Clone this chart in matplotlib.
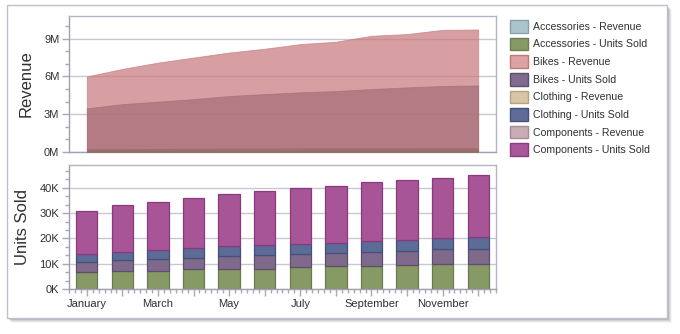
import matplotlib
matplotlib.use("Agg")
import matplotlib.pyplot as plt
from matplotlib.patches import Patch, Rectangle
from matplotlib.ticker import MultipleLocator, FixedLocator, FuncFormatter
import numpy as np

plt.rcParams['font.family'] = ['Liberation Sans', 'DejaVu Sans']

months = ['January', 'February', 'March', 'April', 'May', 'June', 'July',
          'August', 'September', 'October', 'November', 'December']

# Revenue (millions)
acc_rev = [0.26, 0.27, 0.28, 0.29, 0.31, 0.31, 0.32, 0.32, 0.33, 0.33, 0.34, 0.34]
bikes_rev = [6.0, 6.6, 7.1, 7.5, 7.9, 8.2, 8.57, 8.76, 9.23, 9.37, 9.7, 9.73]
cloth_rev = [0.09, 0.09, 0.10, 0.10, 0.11, 0.11, 0.11, 0.12, 0.12, 0.12, 0.13, 0.13]
comp_rev = [3.47, 3.8, 4.0, 4.2, 4.45, 4.6, 4.74, 4.84, 5.0, 5.13, 5.24, 5.29]

# Units sold (thousands)
acc_units = [6.9, 7.3, 7.3, 7.9, 8.1, 8.1, 8.5, 8.9, 8.9, 9.3, 9.9, 9.9]
bikes_units = [3.6, 4.0, 4.6, 4.4, 5.0, 5.5, 5.4, 5.4, 5.8, 5.8, 6.0, 6.0]
cloth_units = [3.2, 3.4, 3.6, 4.0, 4.0, 3.9, 3.8, 3.8, 4.2, 4.2, 4.4, 4.8]
comp_units = [17.0, 18.4, 18.8, 19.6, 20.4, 21.2, 22.2, 22.6, 23.4, 23.9, 23.6, 24.4]

legend_labels = ['Accessories - Revenue', 'Accessories - Units Sold',
                 'Bikes - Revenue', 'Bikes - Units Sold',
                 'Clothing - Revenue', 'Clothing - Units Sold',
                 'Components - Revenue', 'Components - Units Sold']
legend_fill = ['#ABC4CB', '#879A66', '#DBA3A3', '#806A8E',
               '#D8C4A6', '#5E6C98', '#CBABB5', '#A9579A']
legend_edge = ['#8AA0A8', '#6E7E52', '#C07878', '#5E4E6A',
               '#B8A080', '#46507A', '#A88894', '#8A3C7E']

W, H = 680, 334
fig = plt.figure(figsize=(W / 100, H / 100), dpi=100)
fig.patch.set_facecolor('white')

def fx(px):
    return px / W

def fy(py):
    return 1 - py / H

# outer frame with shadow
for i, a in enumerate([0.10, 0.08, 0.06, 0.04, 0.02]):
    d = i + 1
    fig.add_artist(Rectangle((fx(7 + d), fy(318 + d)), fx(660), 313 / H,
                             transform=fig.transFigure, facecolor='#707080',
                             edgecolor='none', alpha=a * 3, zorder=-3))
fig.add_artist(Rectangle((fx(7), fy(318)), fx(660), 313 / H,
                         transform=fig.transFigure, facecolor='white',
                         edgecolor='#C0C0CC', linewidth=1, zorder=-2))

grid_c = '#C8C8D4'
spine_c = '#B4B4C4'
tick_c = '#A8A8B8'
text_c = '#303030'

ax1 = fig.add_axes([fx(69), fy(152), fx(496 - 69), (152 - 16) / H])
ax2 = fig.add_axes([fx(69), fy(289), fx(496 - 69), (289 - 165) / H])

x = np.arange(len(months))

# --- upper: overlapping areas ---
alpha = 0.7
ax1.fill_between(x, 0, bikes_rev, color='#C7777A', alpha=alpha, linewidth=0.6,
                 edgecolor='#C7777A', zorder=2)
ax1.fill_between(x, 0, comp_rev, color='#A56D77', alpha=alpha, linewidth=0.6,
                 edgecolor='#A56D77', zorder=3)
ax1.fill_between(x, 0, acc_rev, color='#95686D', alpha=alpha, linewidth=0,
                 zorder=4)
ax1.fill_between(x, 0, cloth_rev, color='#8C6E55', alpha=alpha, linewidth=0,
                 zorder=5)
ax1.set_xlim(-0.5, 11.5)
ax1.set_ylim(0, 10.8)
ax1.yaxis.set_major_locator(MultipleLocator(3))
ax1.yaxis.set_minor_locator(MultipleLocator(1))
ax1.yaxis.set_major_formatter(FuncFormatter(lambda v, p: f'{int(round(v))}M'))
ax1.set_xticks([])
ax1.grid(axis='y', which='major', color=grid_c, linewidth=1, zorder=0)
ax1.set_axisbelow(True)
ax1.set_ylabel('Revenue', fontsize=12, color=text_c)
ax1.yaxis.set_label_coords(-0.082, 0.5)

# --- lower: stacked bars ---
b0 = np.zeros(len(months))
series = [(acc_units, '#879A66', '#6B7A52'),
          (bikes_units, '#7F6A8C', '#5E4E6E'),
          (cloth_units, '#5D6B97', '#44507A'),
          (comp_units, '#A85598', '#8A3A7C')]
for vals, fc, ec in series:
    ax2.bar(x, vals, width=0.6, bottom=b0, color=fc, edgecolor=ec,
            linewidth=0.9, zorder=2)
    b0 = b0 + np.array(vals)
ax2.set_xlim(-0.5, 11.5)
ax2.set_ylim(0, 49)
ax2.yaxis.set_major_locator(MultipleLocator(10))
ax2.yaxis.set_minor_locator(MultipleLocator(10 / 3))
ax2.yaxis.set_major_formatter(FuncFormatter(lambda v, p: f'{int(round(v))}K'))
ax2.xaxis.set_major_locator(FixedLocator(x))
ax2.xaxis.set_minor_locator(MultipleLocator(1 / 6))
ax2.set_xticklabels([m if i % 2 == 0 else '' for i, m in enumerate(months)])
ax2.grid(axis='y', which='major', color=grid_c, linewidth=1, zorder=0)
ax2.set_axisbelow(True)
ax2.set_ylabel('Units Sold', fontsize=12, color=text_c)
ax2.yaxis.set_label_coords(-0.091, 0.5)

for ax in (ax1, ax2):
    for s in ax.spines.values():
        s.set_color(spine_c)
        s.set_linewidth(1)
    ax.spines['left'].set_color('#A0A0B0')
    ax.spines['bottom'].set_color('#A0A0B0')
    ax.tick_params(axis='both', which='major', direction='out', length=5,
                   width=1, color=tick_c, labelsize=8, labelcolor=text_c, pad=2)
    ax.tick_params(axis='both', which='minor', direction='out', length=3,
                   width=1, color=tick_c)
ax1.tick_params(axis='x', which='both', length=0)

handles = [Patch(facecolor=f, edgecolor=e, linewidth=1)
           for f, e in zip(legend_fill, legend_edge)]
fig.legend(handles, legend_labels, loc='upper left',
           bbox_to_anchor=(fx(510), fy(20)), bbox_transform=fig.transFigure,
           frameon=False, fontsize=7.6, handlelength=1.7, handleheight=1.47,
           handletextpad=0.47, labelspacing=0.47, borderaxespad=0, borderpad=0,
           labelcolor=text_c)

fig.savefig('out.png', dpi=100)
